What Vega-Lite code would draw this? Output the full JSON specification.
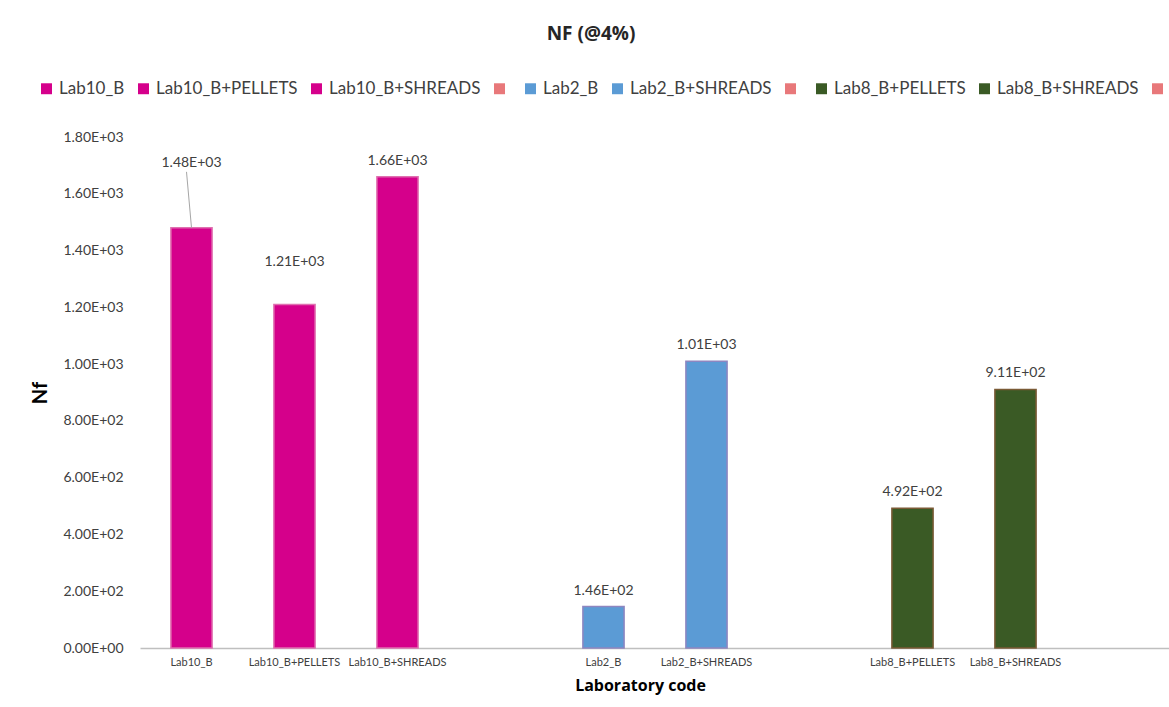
{
  "$schema": "https://vega.github.io/schema/vega-lite/v6.json",
  "width": 1030,
  "height": 511,
  "autosize": {"type": "none"},
  "padding": {"left": 140, "top": 137, "right": 0, "bottom": 59},
  "background": "white",
  "config": {
    "font": "Lato",
    "view": {"stroke": null},
    "axis": {"grid": false, "ticks": false, "labelColor": "#404040", "titleColor": "#000000"}
  },
  "title": {
    "text": "NF (@4%)",
    "font": "Open Sans",
    "fontSize": 19,
    "fontWeight": "bold",
    "color": "#262626",
    "anchor": "middle",
    "dx": -64,
    "offset": 36
  },
  "data": {
    "values": [
      {"lab": "Lab10_B", "nf": 1480, "label": "1.48E+03"},
      {"lab": "Lab10_B+PELLETS", "nf": 1210, "label": "1.21E+03"},
      {"lab": "Lab10_B+SHREADS", "nf": 1660, "label": "1.66E+03"},
      {"lab": "Lab2_B", "nf": 146, "label": "1.46E+02"},
      {"lab": "Lab2_B+SHREADS", "nf": 1010, "label": "1.01E+03"},
      {"lab": "Lab8_B+PELLETS", "nf": 492, "label": "4.92E+02"},
      {"lab": "Lab8_B+SHREADS", "nf": 911, "label": "9.11E+02"}
    ]
  },
  "encoding": {
    "x": {
      "field": "lab",
      "type": "nominal",
      "sort": null,
      "scale": {
        "domain": ["Lab10_B", "Lab10_B+PELLETS", "Lab10_B+SHREADS", " ", "Lab2_B", "Lab2_B+SHREADS", "  ", "Lab8_B+PELLETS", "Lab8_B+SHREADS", "   "],
        "paddingInner": 0.6,
        "paddingOuter": 0.3
      },
      "axis": {
        "title": "Laboratory code",
        "titleFont": "Open Sans",
        "titleFontSize": 16,
        "titleFontWeight": "bold",
        "titlePadding": 10,
        "titleX": 500,
        "labelAngle": 0,
        "labelFontSize": 11,
        "labelPadding": 8,
        "labelOverlap": false,
        "domainColor": "#BFBFBF",
        "domainWidth": 1.5
      }
    }
  },
  "layer": [
    {
      "mark": {"type": "bar", "strokeWidth": 1.5},
      "encoding": {
        "y": {
          "field": "nf",
          "type": "quantitative",
          "scale": {"domain": [0, 1800]},
          "axis": {
            "title": "Nf",
            "titleFontSize": 20,
            "titleFontWeight": "bold",
            "titlePadding": 12,
            "values": [0, 200, 400, 600, 800, 1000, 1200, 1400, 1600, 1800],
            "labelExpr": "replace(format(datum.value, '.2e'), 'e+', 'E+0')",
            "labelFontSize": 14,
            "labelPadding": 17,
            "labelOverlap": false,
            "labelFlush": false,
            "domain": false
          }
        },
        "color": {
          "field": "lab",
          "type": "nominal",
          "scale": {
            "domain": ["Lab10_B", "Lab10_B+PELLETS", "Lab10_B+SHREADS", " ", "Lab2_B", "Lab2_B+SHREADS", "  ", "Lab8_B+PELLETS", "Lab8_B+SHREADS", "   "],
            "range": ["#D5008B", "#D5008B", "#D5008B", "#E8787A", "#5B9BD5", "#5B9BD5", "#E8787A", "#3A5A25", "#3A5A25", "#E8787A"]
          },
          "legend": {
            "title": null,
            "orient": "none",
            "direction": "horizontal",
            "legendX": -102,
            "legendY": -57,
            "symbolType": "square",
            "symbolSize": 120,
            "symbolStrokeWidth": 0,
            "labelFontSize": 17,
            "labelColor": "#404040",
            "labelOffset": 4,
            "columnPadding": 10
          }
        },
        "stroke": {
          "field": "lab",
          "type": "nominal",
          "scale": {
            "domain": ["Lab10_B", "Lab10_B+PELLETS", "Lab10_B+SHREADS", "Lab2_B", "Lab2_B+SHREADS", "Lab8_B+PELLETS", "Lab8_B+SHREADS"],
            "range": ["#E070B0", "#E070B0", "#E070B0", "#8E86C0", "#8E86C0", "#7A5A35", "#7A5A35"]
          },
          "legend": null
        }
      }
    },
    {
      "transform": [{"filter": "datum.lab != 'Lab10_B' && datum.lab != 'Lab10_B+PELLETS'"}],
      "mark": {"type": "text", "baseline": "bottom", "dy": -9, "fontSize": 14, "color": "#404040"},
      "encoding": {
        "y": {"field": "nf", "type": "quantitative"},
        "text": {"field": "label"}
      }
    },
    {
      "transform": [{"filter": "datum.lab == 'Lab10_B+PELLETS'"}],
      "mark": {"type": "text", "baseline": "bottom", "dy": -35, "fontSize": 14, "color": "#404040"},
      "encoding": {
        "y": {"field": "nf", "type": "quantitative"},
        "text": {"field": "label"}
      }
    },
    {
      "transform": [{"filter": "datum.lab == 'Lab10_B'"}],
      "mark": {"type": "text", "baseline": "bottom", "dy": -58, "fontSize": 14, "color": "#404040"},
      "encoding": {
        "y": {"field": "nf", "type": "quantitative"},
        "text": {"field": "label"}
      }
    },
    {
      "transform": [{"filter": "datum.lab == 'Lab10_B'"}],
      "mark": {"type": "rule", "color": "#A6A6A6", "strokeWidth": 1, "x2Offset": -5, "y2Offset": -56},
      "encoding": {
        "y": {"field": "nf", "type": "quantitative"},
        "y2": {"field": "nf"},
        "x2": {"field": "lab"}
      }
    }
  ]
}
